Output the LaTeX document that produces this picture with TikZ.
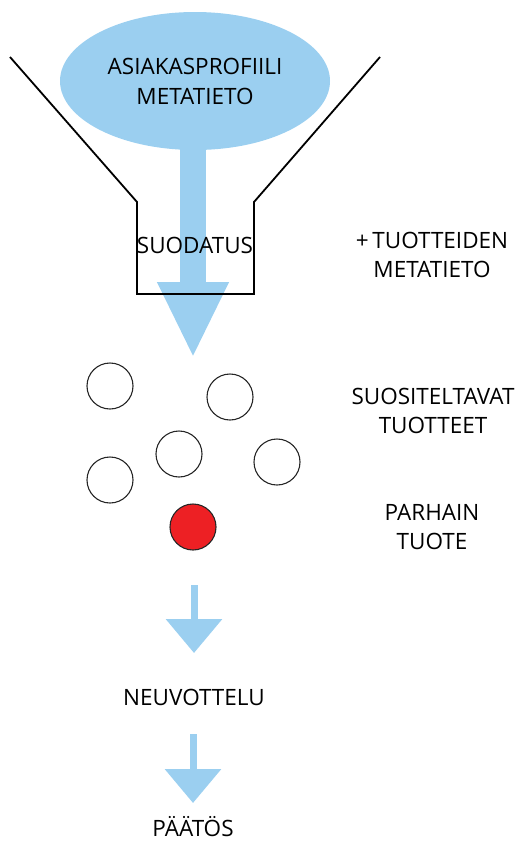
\documentclass[tikz,border=0pt]{standalone}
\usepackage{fontspec}
\setmainfont{Open Sans}
\usetikzlibrary{%
  arrows.meta,% Triangle tips
  shapes.geometric,% ellipse
  positioning%
}
\definecolor{flowblue}{RGB}{155,207,240}
\definecolor{bestred}{RGB}{237,32,36}

\begin{document}
\begin{tikzpicture}[x=1pt,y=-1pt,
  txt/.style={font=\fontsize{22.5}{29}\selectfont, align=center, inner sep=0pt},
  item/.style={circle, draw=black!85, line width=1.1pt, minimum size=46pt, inner sep=0pt},
  flow/.style={draw=flowblue, line width=7pt, -{Triangle[length=34pt,width=55pt]}}]
\useasboundingbox (0,0) rectangle (515,841);

% profiili + suodatin
\node[ellipse, fill=flowblue, minimum width=270pt, minimum height=138pt,
      inner sep=0pt, txt, font=\fontsize{22.5}{30}\selectfont] (profile) at (195,81)
      {ASIAKASPROFIILI\\METATIETO};
\coordinate (filtertip) at (193,358);
\draw[draw=flowblue, line width=26pt, -{Triangle[length=76pt,width=66pt]}]
     (193,140) -- (filtertip);
\draw[line width=1.8pt] (10,57) -- (137,202) -- (137,294) -- (254,294)
     -- (254,202) -- (380,57);
\node[txt] (filter) at (195,245) {SUODATUS};
\node[txt] (meta) at (432,255) {+\,TUOTTEIDEN\\METATIETO};

% tuotteet
\node[item] (p1) at (110,386) {};
\node[item] (p2) at (230,397) {};
\node[item] (p3) at (179,454) {};
\node[item] (p4) at (110,480) {};
\node[item] (p5) at (277,462) {};
\node[item, fill=bestred] (best) at (193,527) {};
\node[txt] (suos) at (433,411) {SUOSITELTAVAT\\TUOTTEET};
\node[txt] (paras) at (432,527) {PARHAIN\\TUOTE};

% neuvottelu ja paatos
\node[txt] (talk) at (194,697) {NEUVOTTELU};
\node[txt, anchor=base] (decision) at (193,836) {PÄÄTÖS};
\coordinate (a1) at (194,585);
\coordinate (a1tip) at (194,653);
\coordinate (a2) at (193,734);
\coordinate (a2tip) at (193,803);
\draw[flow] (a1) -- (a1tip);
\draw[flow] (a2) -- (a2tip);
\end{tikzpicture}
\end{document}
